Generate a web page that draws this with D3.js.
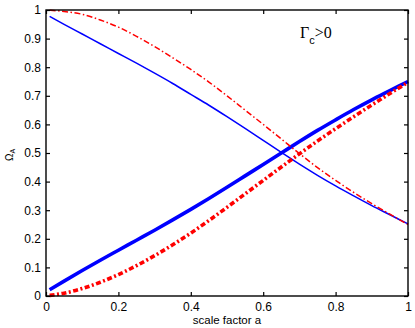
<!DOCTYPE html>
<html>
<head>
<meta charset="utf-8">
<script src="https://cdn.jsdelivr.net/npm/d3@7"></script>
<style>
  html, body { margin: 0; padding: 0; background: #fff; }
  svg { display: block; }
</style>
</head>
<body>
<svg id="chart" width="415" height="328"></svg>
<script>
// ---- data ----
const scaleFactor = [0.01, 0.05, 0.1, 0.15, 0.2, 0.25, 0.3, 0.35, 0.4, 0.45, 0.5,
                     0.55, 0.6, 0.65, 0.7, 0.75, 0.8, 0.85, 0.9, 0.95, 1.0];
// blue solid, thin (decreasing)
const blueThin  = [0.978, 0.950, 0.916, 0.882, 0.848, 0.814, 0.779, 0.743, 0.705, 0.667, 0.627,
                   0.586, 0.544, 0.502, 0.461, 0.422, 0.385, 0.350, 0.316, 0.284, 0.252];
// blue solid, thick (increasing)
const blueThick = [0.022, 0.052, 0.089, 0.125, 0.160, 0.195, 0.230, 0.266, 0.303, 0.341, 0.380,
                   0.420, 0.460, 0.500, 0.540, 0.579, 0.616, 0.652, 0.686, 0.718, 0.750];
// red dash-dot, thin (decreasing)
const redThin   = [0.999, 0.995, 0.985, 0.965, 0.940, 0.908, 0.872, 0.833, 0.792, 0.748, 0.700,
                   0.650, 0.600, 0.549, 0.498, 0.449, 0.404, 0.362, 0.323, 0.286, 0.250];
// red dash-dot, thick (increasing)
const redThick  = [0.002, 0.010, 0.026, 0.048, 0.075, 0.106, 0.141, 0.179, 0.220, 0.264, 0.310,
                   0.357, 0.404, 0.451, 0.497, 0.542, 0.585, 0.627, 0.668, 0.708, 0.747];

const xTicks = [0, 0.2, 0.4, 0.6, 0.8, 1];
const xTickLabels = ["0", "0.2", "0.4", "0.6", "0.8", "1"];
const yTicks = [0, 0.1, 0.2, 0.3, 0.4, 0.5, 0.6, 0.7, 0.8, 0.9, 1];
const yTickLabels = ["0", "0.1", "0.2", "0.3", "0.4", "0.5", "0.6", "0.7", "0.8", "0.9", "1"];

const xTitle = "scale factor a";
const yTitleMain = "Ω";
const yTitleSub = "A";
const annMain = "Γ";
const annSub = "c";
const annTail = ">0";

// ---- layout ----
const L = 46, R = 408, T = 10, B = 296;
const svg = d3.select("#chart");
const x = d3.scaleLinear().domain([0, 1]).range([L, R]);
const y = d3.scaleLinear().domain([0, 1]).range([B, T]);
const font = "'Liberation Sans', Arial, Helvetica, sans-serif";

// ---- series ----
const line = vals => d3.line()
  .x((d, i) => x(scaleFactor[i]))
  .y(d => y(d))
  .curve(d3.curveMonotoneX)(vals);

const series = [
  { vals: blueThin,  color: "#0000ff", width: 1.5, dash: null },
  { vals: blueThick, color: "#0000ff", width: 3.6, dash: null },
  { vals: redThin,   color: "#ff0000", width: 1.5, dash: "6,2.5,1.5,2.5" },
  { vals: redThick,  color: "#ff0000", width: 3.6, dash: "5,2.5,2,2.5" }
];

const plot = svg.append("g");
series.forEach(s => {
  plot.append("path")
    .attr("d", line(s.vals))
    .attr("fill", "none")
    .attr("stroke", s.color)
    .attr("stroke-width", s.width)
    .attr("stroke-dasharray", s.dash)
    .attr("stroke-linejoin", "round");
});

// ---- axes ----
const fmtX = d => xTickLabels[xTicks.indexOf(d)];
const fmtY = d => yTickLabels[yTicks.indexOf(d)];

function styleAxis(g) {
  g.select(".domain").remove();
  g.selectAll(".tick line").attr("stroke", "#000").attr("stroke-width", 1.2);
  g.selectAll(".tick text").attr("fill", "#000")
    .style("font-family", font).style("font-size", "12px");
}

svg.append("g").attr("transform", `translate(0,${B})`)
  .call(d3.axisBottom(x).tickValues(xTicks).tickFormat(fmtX).tickSizeInner(-4).tickSizeOuter(0).tickPadding(6))
  .call(styleAxis);
svg.append("g").attr("transform", `translate(0,${T})`)
  .call(d3.axisTop(x).tickValues(xTicks).tickFormat("").tickSizeInner(-4).tickSizeOuter(0))
  .call(styleAxis);
svg.append("g").attr("transform", `translate(${L},0)`)
  .call(d3.axisLeft(y).tickValues(yTicks).tickFormat(fmtY).tickSizeInner(-4).tickSizeOuter(0).tickPadding(5))
  .call(styleAxis);
svg.append("g").attr("transform", `translate(${R},0)`)
  .call(d3.axisRight(y).tickValues(yTicks).tickFormat("").tickSizeInner(-4).tickSizeOuter(0))
  .call(styleAxis);

svg.append("rect")
  .attr("x", L).attr("y", T).attr("width", R - L).attr("height", B - T)
  .attr("fill", "none").attr("stroke", "#000").attr("stroke-width", 1.4);

// ---- titles ----
svg.append("text")
  .attr("x", (L + R) / 2).attr("y", 324)
  .attr("text-anchor", "middle")
  .style("font-family", font).style("font-size", "11.5px")
  .text(xTitle);

const yt = svg.append("text")
  .attr("transform", `translate(12.5,155) rotate(-90)`)
  .attr("text-anchor", "middle")
  .style("font-family", font).style("font-size", "10px");
yt.append("tspan").text(yTitleMain);
yt.append("tspan").attr("dy", 2).style("font-size", "7px").text(yTitleSub);

// ---- annotation ----
const ann = svg.append("text")
  .attr("x", 300).attr("y", 37.5)
  .style("font-family", "'Liberation Serif', 'Times New Roman', serif")
  .style("font-size", "16px");
ann.append("tspan").text(annMain);
ann.append("tspan").attr("dy", 6).style("font-size", "11px")
  .style("font-family", font).text(annSub);
ann.append("tspan").attr("dy", -6).text(annTail);
</script>
</body>
</html>
